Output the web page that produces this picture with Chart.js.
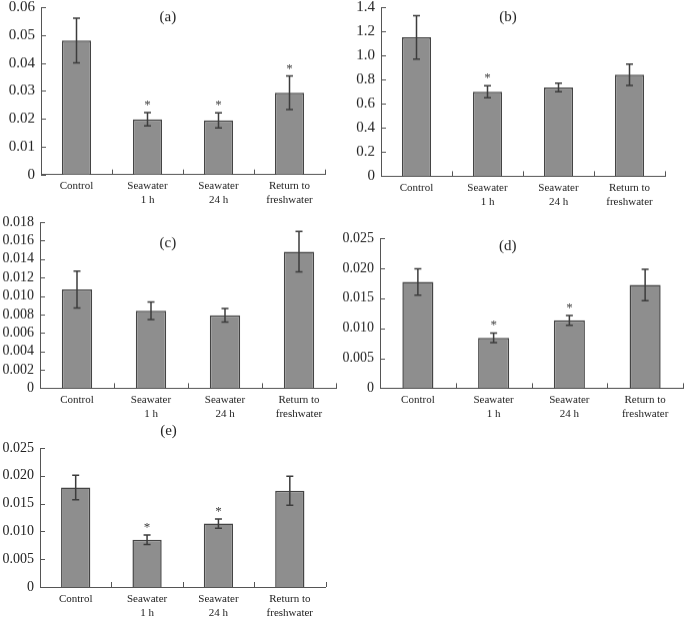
<!DOCTYPE html>
<html>
<head>
<meta charset="utf-8">
<script src="https://cdn.jsdelivr.net/npm/chart.js@4.4.1/dist/chart.umd.min.js"></script>
<style>
  body { margin: 0; background: #fff; overflow: hidden; width: 685px; height: 620px; position: relative; }
  .panel { position: absolute; }
</style>
</head>
<body>
<div class="panel" id="box-a"><canvas id="chart-a"></canvas></div>
<div class="panel" id="box-b"><canvas id="chart-b"></canvas></div>
<div class="panel" id="box-c"><canvas id="chart-c"></canvas></div>
<div class="panel" id="box-d"><canvas id="chart-d"></canvas></div>
<div class="panel" id="box-e"><canvas id="chart-e"></canvas></div>
<script>
// categories shared by all five panels
const categories = [['Control'], ['Seawater', '1 h'], ['Seawater', '24 h'], ['Return to', 'freshwater']];

// (a)
const meansA = [0.048, 0.0198, 0.0194, 0.0293];
const errorsA = [0.008, 0.0024, 0.0027, 0.006];
const starsA = [false, true, true, true];
const yTicksA = ['0', '0.01', '0.02', '0.03', '0.04', '0.05', '0.06'];

// (b)
const meansB = [1.15, 0.70, 0.735, 0.84];
const errorsB = [0.18, 0.05, 0.036, 0.088];
const starsB = [false, true, false, false];
const yTicksB = ['0', '0.2', '0.4', '0.6', '0.8', '1.0', '1.2', '1.4'];

// (c)
const meansC = [0.0107, 0.0084, 0.0079, 0.0148];
const errorsC = [0.002, 0.00095, 0.00073, 0.0022];
const starsC = [false, false, false, false];
const yTicksC = ['0', '0.002', '0.004', '0.006', '0.008', '0.010', '0.012', '0.014', '0.016', '0.018'];

// (d)
const meansD = [0.0177, 0.0084, 0.0113, 0.0172];
const errorsD = [0.0022, 0.0008, 0.0008, 0.0026];
const starsD = [false, true, true, false];
const yTicksD = ['0', '0.005', '0.010', '0.015', '0.020', '0.025'];

// (e)
const meansE = [0.0179, 0.0085, 0.0114, 0.0173];
const errorsE = [0.0022, 0.00085, 0.00085, 0.0026];
const starsE = [false, true, true, false];
const yTicksE = ['0', '0.005', '0.010', '0.015', '0.020', '0.025'];

const panelTags = ['(a)', '(b)', '(c)', '(d)', '(e)'];

// layout: chart area box in page pixels + where the panel tag sits
const Y_W = 44, PAD_T = 24, PAD_R = 6, X_H = 40;
const SERIF = '"Liberation Serif", "Times New Roman", serif';
const INK = '#3c3c3c';

const panels = [
    { id: 'a', means: meansA, errors: errorsA, stars: starsA, yTicks: yTicksA, box: { l: 41, t: 7.3, r: 325, b: 174 }, tag: { fx: 0.447, dy: 10 }, yFont: 15 },
    { id: 'b', means: meansB, errors: errorsB, stars: starsB, yTicks: yTicksB, box: { l: 381, t: 7.3, r: 665, b: 175.7 }, tag: { fx: 0.447, dy: 10 }, yFont: 15 },
    { id: 'c', means: meansC, errors: errorsC, stars: starsC, yTicks: yTicksC, box: { l: 40, t: 222.3, r: 336, b: 387.7 }, tag: { fx: 0.432, dy: 21 }, yFont: 14 },
    { id: 'd', means: meansD, errors: errorsD, stars: starsD, yTicks: yTicksD, box: { l: 380, t: 238.3, r: 683, b: 387.7 }, tag: { fx: 0.422, dy: 8.5 }, yFont: 14 },
    { id: 'e', means: meansE, errors: errorsE, stars: starsE, yTicks: yTicksE, box: { l: 39.5, t: 447.7, r: 325, b: 586.7 }, tag: { fx: 0.45, dy: -17 }, yFont: 14 }
];

// error bars, significance stars, inward tick marks and panel tag
const extrasPlugin = {
    id: 'extras',
    afterDatasetsDraw(chart, args, opts) {
        const { ctx, chartArea: area, scales: { x, y } } = chart;
        const meta = chart.getDatasetMeta(0);
        ctx.save();
        ctx.strokeStyle = INK;
        ctx.lineWidth = 1.5;
        meta.data.forEach((bar, i) => {
            const m = opts.means[i], e = opts.errors[i];
            const top = y.getPixelForValue(m + e);
            const bot = y.getPixelForValue(m - e);
            ctx.beginPath();
            ctx.moveTo(bar.x, top); ctx.lineTo(bar.x, bot);
            ctx.moveTo(bar.x - 3.5, top); ctx.lineTo(bar.x + 3.5, top);
            ctx.moveTo(bar.x - 3.5, bot); ctx.lineTo(bar.x + 3.5, bot);
            ctx.stroke();
            if (opts.stars[i]) {
                ctx.fillStyle = INK;
                ctx.font = '13px ' + SERIF;
                ctx.textAlign = 'center';
                ctx.textBaseline = 'alphabetic';
                ctx.fillText('*', bar.x, top - 4);
            }
        });

        // tick marks pointing into the plot
        ctx.strokeStyle = '#555';
        ctx.lineWidth = 1;
        ctx.beginPath();
        y.ticks.forEach(t => {
            const py = Math.round(y.getPixelForValue(t.value)) + 0.5;
            ctx.moveTo(area.left, py); ctx.lineTo(area.left + 5, py);
        });
        for (let i = 0; i <= categories.length; i++) {
            const px = Math.round(x.getPixelForValue(i - 0.5)) + 0.5;
            ctx.moveTo(px, area.bottom); ctx.lineTo(px, area.bottom - 5);
        }
        ctx.stroke();

        ctx.fillStyle = '#222';
        ctx.font = '15px ' + SERIF;
        ctx.textAlign = 'center';
        ctx.textBaseline = 'middle';
        ctx.fillText(opts.tag, area.left + opts.fx * (area.right - area.left), area.top + opts.dy);
        ctx.restore();
    }
};

function renderPanel(p, idx) {
    const holder = document.getElementById('box-' + p.id);
    holder.style.left = (p.box.l - Y_W) + 'px';
    holder.style.top = (p.box.t - PAD_T) + 'px';
    holder.style.width = (p.box.r - p.box.l + Y_W + PAD_R) + 'px';
    holder.style.height = (p.box.b - p.box.t + PAD_T + X_H) + 'px';

    const ctx = document.getElementById('chart-' + p.id).getContext('2d');
    const yMax = parseFloat(p.yTicks[p.yTicks.length - 1]);

    new Chart(ctx, {
        type: 'bar',
        data: {
            labels: categories,
            datasets: [{
                data: p.means,
                backgroundColor: '#8e8e8e',
                borderColor: '#444',
                borderWidth: 1.5,
                barPercentage: 0.41,
                categoryPercentage: 1
            }]
        },
        options: {
            responsive: true,
            maintainAspectRatio: false,
            animation: false,
            layout: { padding: { top: PAD_T, right: PAD_R, left: 0, bottom: 0 } },
            plugins: {
                legend: { display: false },
                tooltip: { enabled: false },
                extras: { means: p.means, errors: p.errors, stars: p.stars, tag: panelTags[idx], fx: p.tag.fx, dy: p.tag.dy }
            },
            scales: {
                x: {
                    grid: { display: false, drawTicks: false },
                    border: { display: true, color: '#555', width: 1 },
                    ticks: {
                        color: '#222',
                        padding: 5,
                        maxRotation: 0,
                        autoSkip: false,
                        font: { family: SERIF, size: 11, lineHeight: 1.25 }
                    },
                    afterFit: s => { s.height = X_H; }
                },
                y: {
                    min: 0,
                    max: yMax,
                    grid: { display: false, drawTicks: false },
                    border: { display: true, color: '#555', width: 1 },
                    afterBuildTicks: s => { s.ticks = p.yTicks.map(t => ({ value: parseFloat(t) })); },
                    ticks: {
                        color: '#222',
                        padding: 6,
                        autoSkip: false,
                        font: { family: SERIF, size: p.yFont },
                        callback: (v, i) => p.yTicks[i]
                    },
                    afterFit: s => { s.width = Y_W; }
                }
            }
        },
        plugins: [extrasPlugin]
    });
}

panels.forEach(renderPanel);
</script>
</body>
</html>
